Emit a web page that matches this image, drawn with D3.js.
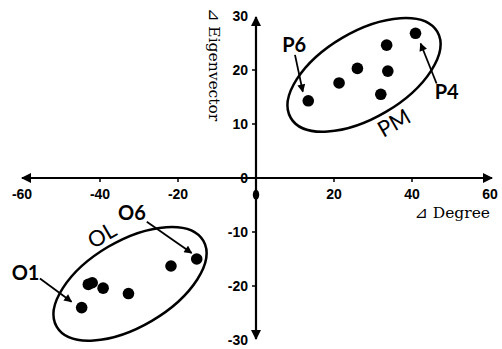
<!DOCTYPE html>
<html><head><meta charset="utf-8">
<script src="https://cdn.jsdelivr.net/npm/d3@7"></script>
<style>body{margin:0;background:#fff}svg{display:block}</style>
</head><body><svg id="c" width="502" height="349"></svg>
<script>
// ---- data ----
const xTicks = [-60, -40, -20, 20, 40, 60];
const yTicks = [30, 20, 10, 0, -10, -20, -30];
const pmX = [13.4, 21.3, 26.0, 33.5, 33.8, 32.0, 40.9];
const pmY = [14.3, 17.6, 20.3, 24.6, 19.8, 15.5, 26.8];
const olX = [-44.7, -43.0, -42.0, -39.2, -32.7, -21.8, -15.2];
const olY = [-24.0, -19.7, -19.4, -20.4, -21.4, -16.3, -15.0];
const extraX = [0];
const extraY = [-3.1];
const labelText = ["P6", "P4", "O6", "O1"];
const labelX = [9.8, 48.9, -31.8, -59.1];
const labelY = [23.4, 14.6, -7.8, -18.9];
const arrowX1 = [10.0, 46.3, -28.0, -55.4];
const arrowY1 = [22.8, 17.5, -8.1, -18.6];
const arrowX2 = [12.0, 42.2, -16.5, -47.3];
const arrowY2 = [16.0, 24.9, -13.9, -22.9];
const groupText = ["PM", "OL"];
const groupCX = [27.7, -32.3];
const groupCY = [19.1, -19.6];
const groupLabelX = [35.4, -39.5];
const groupLabelY = [10.2, -10.6];
const xTitle = "Degree";
const yTitle = "Eigenvector";
const deltaSym = "⊿";

const svg = d3.select("#c");
const x = d3.scaleLinear().domain([-60, 60]).range([22, 490]);
const y = d3.scaleLinear().domain([-30, 30]).range([340, 16]);

const defs = svg.append("defs");
defs.append("marker").attr("id", "ah").attr("viewBox", "0 0 10 10")
  .attr("refX", 9).attr("refY", 5).attr("markerWidth", 10).attr("markerHeight", 10)
  .attr("markerUnits", "userSpaceOnUse").attr("orient", "auto-start-reverse")
  .append("path").attr("d", "M0,0 L10,5 L0,10 Z").attr("fill", "#000");
defs.append("marker").attr("id", "sh").attr("viewBox", "0 0 10 10")
  .attr("refX", 9).attr("refY", 5).attr("markerWidth", 9).attr("markerHeight", 8)
  .attr("markerUnits", "userSpaceOnUse").attr("orient", "auto")
  .append("path").attr("d", "M0,0 L10,5 L0,10 Z").attr("fill", "#000");

// axes lines with arrows
svg.append("line").attr("x1", x(-60)).attr("x2", x(60) + 2).attr("y1", y(0)).attr("y2", y(0))
  .attr("stroke", "#000").attr("stroke-width", 2.2)
  .attr("marker-start", "url(#ah)").attr("marker-end", "url(#ah)");
svg.append("line").attr("x1", x(0)).attr("x2", x(0)).attr("y1", y(30) + 1).attr("y2", y(-30) - 1)
  .attr("stroke", "#000").attr("stroke-width", 2.2)
  .attr("marker-start", "url(#ah)").attr("marker-end", "url(#ah)");

// ticks
svg.selectAll(".xt").data(xTicks.filter(d => Math.abs(d) < 60)).join("line")
  .attr("x1", d => x(d)).attr("x2", d => x(d)).attr("y1", y(0)).attr("y2", y(0) + 4)
  .attr("stroke", "#000").attr("stroke-width", 1.5);
svg.selectAll(".yt").data(yTicks.filter(d => d !== 0 && Math.abs(d) < 30)).join("line")
  .attr("x1", x(0) - 4).attr("x2", x(0)).attr("y1", d => y(d)).attr("y2", d => y(d))
  .attr("stroke", "#000").attr("stroke-width", 1.5);

const tf = "'Liberation Sans', Arial, sans-serif";
svg.selectAll(".xl").data(xTicks).join("text")
  .attr("x", d => x(d)).attr("y", y(0) + 21).attr("text-anchor", "middle")
  .attr("font-family", tf).attr("font-weight", "bold").attr("font-size", 14).text(d => d);
svg.selectAll(".yl").data(yTicks).join("text")
  .attr("x", x(0) - 8).attr("y", d => y(d) + 5).attr("text-anchor", "end")
  .attr("font-family", tf).attr("font-weight", "bold").attr("font-size", 14).text(d => d);

// axis titles
const sf = "'DejaVu Serif', 'Liberation Serif', serif";
const xt = svg.append("text").attr("x", 490).attr("y", y(0) + 40).attr("text-anchor", "end")
  .attr("font-family", sf).attr("font-size", 15.5);
xt.append("tspan").attr("font-family", "'DejaVu Sans', sans-serif").attr("font-size", 16).text(deltaSym);
xt.append("tspan").text(" " + xTitle);
const yt = svg.append("text").attr("transform", `translate(${x(0) - 47},8) rotate(90)`)
  .attr("font-family", sf).attr("font-size", 15.5);
yt.append("tspan").attr("font-family", "'DejaVu Sans', sans-serif").attr("font-size", 16).text(deltaSym);
yt.append("tspan").text(" " + yTitle);

// ellipses
svg.selectAll(".ell").data(groupCX).join("ellipse")
  .attr("transform", (d, i) => `translate(${x(d)},${y(groupCY[i])}) rotate(-30.5)`)
  .attr("rx", 85).attr("ry", 43).attr("fill", "none").attr("stroke", "#000").attr("stroke-width", 2.5);

// points
const pts = pmX.map((d, i) => [d, pmY[i]]).concat(olX.map((d, i) => [d, olY[i]]));
svg.selectAll(".pt").data(pts).join("circle")
  .attr("cx", d => x(d[0])).attr("cy", d => y(d[1])).attr("r", 5.8).attr("fill", "#000");
svg.selectAll(".ex").data(extraX).join("ellipse")
  .attr("cx", d => x(d)).attr("cy", (d, i) => y(extraY[i])).attr("rx", 3.2).attr("ry", 5).attr("fill", "#000");

// annotation arrows
svg.selectAll(".ar").data(arrowX1).join("line")
  .attr("x1", d => x(d)).attr("y1", (d, i) => y(arrowY1[i]))
  .attr("x2", (d, i) => x(arrowX2[i])).attr("y2", (d, i) => y(arrowY2[i]))
  .attr("stroke", "#000").attr("stroke-width", 1.8).attr("marker-end", "url(#sh)");

const lf = "Lato, 'Open Sans', sans-serif";
svg.selectAll(".lb").data(labelText).join("text")
  .attr("x", (d, i) => x(labelX[i])).attr("y", (d, i) => y(labelY[i])).attr("text-anchor", "middle")
  .attr("font-family", lf).attr("font-weight", "bold").attr("font-size", 20).text(d => d);

svg.selectAll(".gl").data(groupText).join("text")
  .attr("transform", (d, i) => `translate(${x(groupLabelX[i])},${y(groupLabelY[i])}) rotate(-30)`)
  .attr("text-anchor", "middle").attr("dy", "0.35em")
  .attr("font-family", lf).attr("font-size", 22).text(d => d);
</script></body></html>
